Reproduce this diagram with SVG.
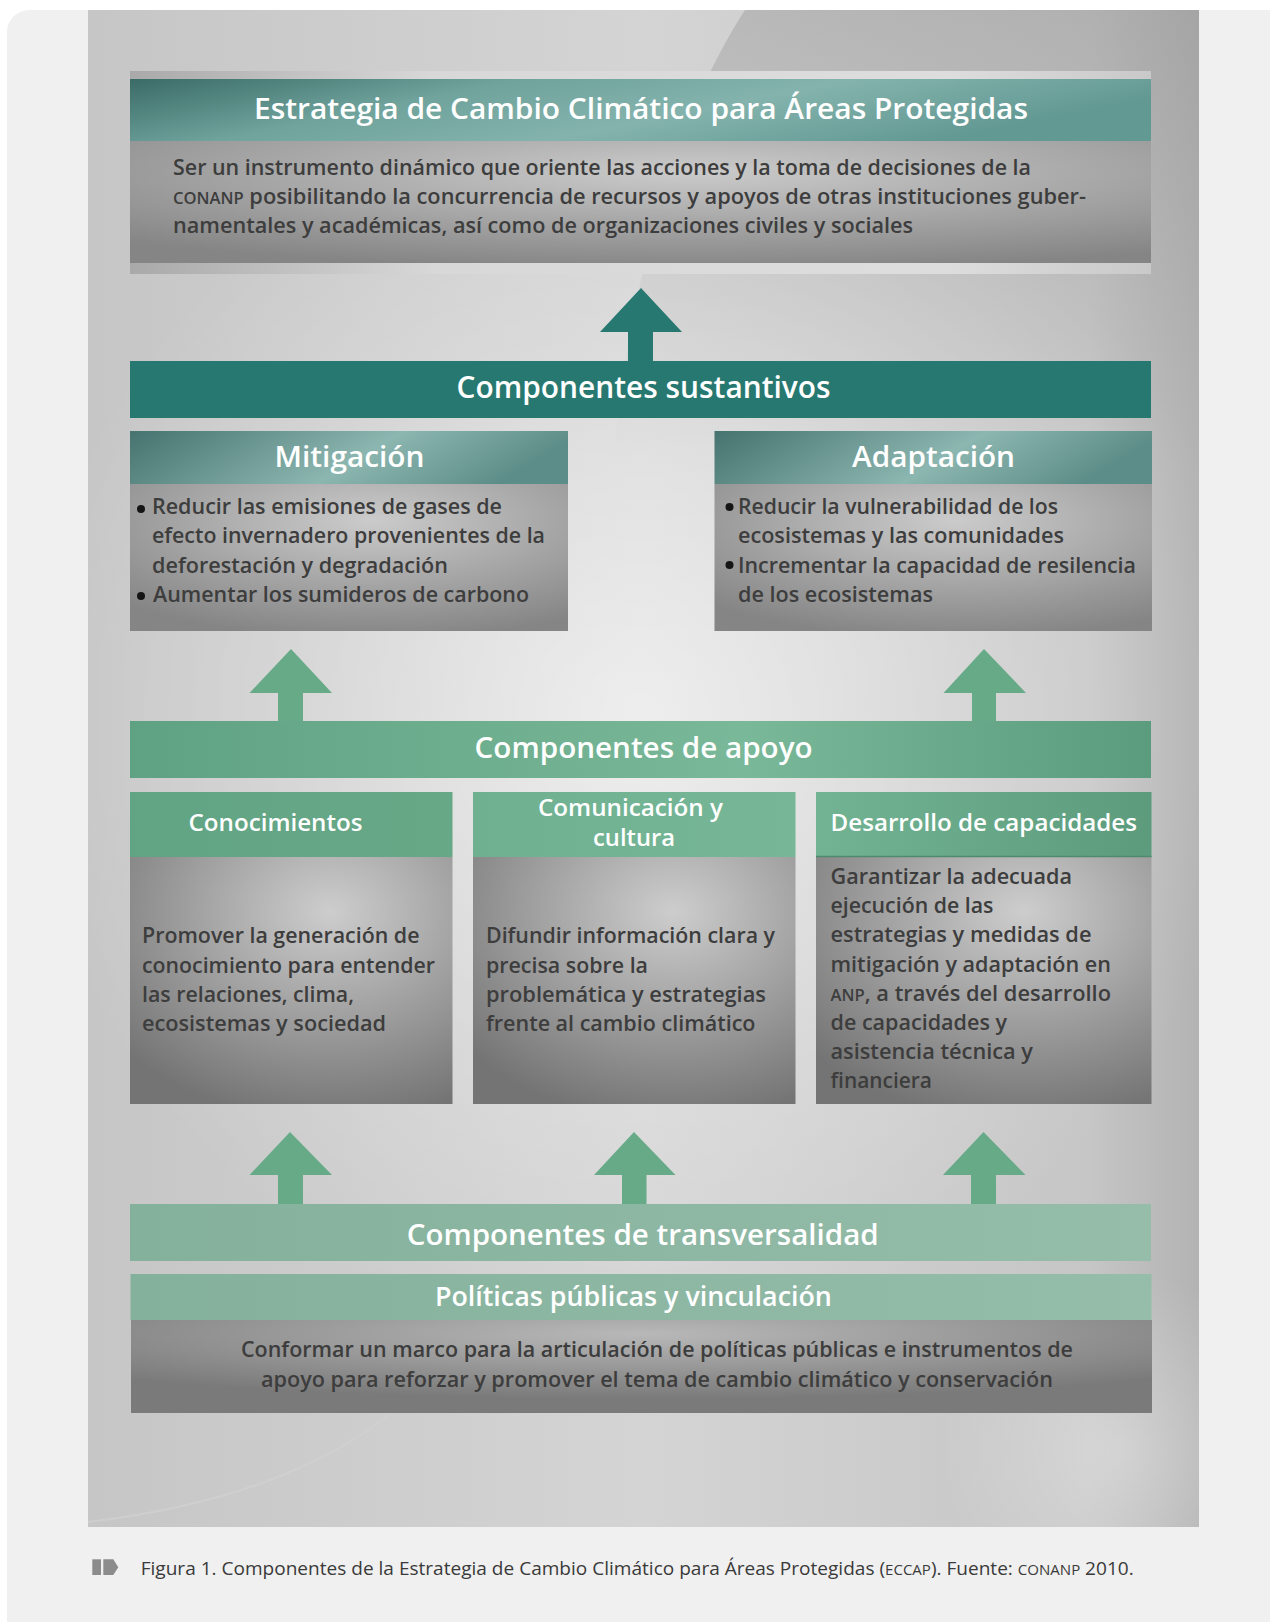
<svg xmlns="http://www.w3.org/2000/svg" width="1270" height="1622" viewBox="0 0 1270 1622">
<defs>
<style>
.t{font-family:"Open Sans","Noto Sans","Liberation Sans",sans-serif;}
.w{fill:#ffffff;font-weight:600;}
.b{fill:#3d3d3d;font-weight:600;font-size:21px;}
.m{text-anchor:middle;}
.sc{font-size:16px;}
.arT{fill:#277870;}
.arG{fill:#67aa88;}
.dot{fill:#151515;}
</style>
<linearGradient id="panelBase" x1="0" y1="0" x2="1" y2="0">
<stop offset="0" stop-color="#c6c6c6"/>
<stop offset="0.5" stop-color="#d4d4d4"/>
<stop offset="0.9" stop-color="#c6c6c6"/>
<stop offset="1" stop-color="#b3b3b3"/>
</linearGradient>
<radialGradient id="panelGlow" cx="640" cy="720" r="620" gradientUnits="userSpaceOnUse">
<stop offset="0" stop-color="#ffffff" stop-opacity="0.6"/>
<stop offset="0.6" stop-color="#ffffff" stop-opacity="0.2"/>
<stop offset="1" stop-color="#ffffff" stop-opacity="0"/>
</radialGradient>
<radialGradient id="glowBR" cx="1120" cy="1450" r="180" gradientUnits="userSpaceOnUse">
<stop offset="0" stop-color="#ffffff" stop-opacity="0.3"/>
<stop offset="1" stop-color="#ffffff" stop-opacity="0"/>
</radialGradient>
<linearGradient id="darkTR" x1="0" y1="0" x2="0" y2="1">
<stop offset="0" stop-color="#8a8a8a" stop-opacity="0.35"/>
<stop offset="1" stop-color="#8a8a8a" stop-opacity="0"/>
</linearGradient>
<linearGradient id="hdrTop" x1="0" y1="0" x2="1" y2="0.3">
<stop offset="0" stop-color="#3b6b67"/>
<stop offset="0.35" stop-color="#6fa39c"/>
<stop offset="0.65" stop-color="#84b3ad"/>
<stop offset="1" stop-color="#639993"/>
</linearGradient>
<linearGradient id="hdrMA" x1="0" y1="0" x2="1" y2="0.2">
<stop offset="0" stop-color="#46736f"/>
<stop offset="0.6" stop-color="#8cb6b0"/>
<stop offset="1" stop-color="#5d8d88"/>
</linearGradient>
<linearGradient id="apoyo" x1="0" y1="0" x2="1" y2="0">
<stop offset="0" stop-color="#5fa283"/>
<stop offset="0.6" stop-color="#79b899"/>
<stop offset="1" stop-color="#5b9c7e"/>
</linearGradient>
<linearGradient id="colHdr1" x1="0" y1="0" x2="1" y2="0">
<stop offset="0" stop-color="#61a483"/>
<stop offset="1" stop-color="#67a887"/>
</linearGradient>
<linearGradient id="colHdr2" x1="0" y1="0" x2="1" y2="0">
<stop offset="0" stop-color="#6eb090"/>
<stop offset="1" stop-color="#77b798"/>
</linearGradient>
<linearGradient id="colHdr3" x1="0" y1="0" x2="1" y2="0">
<stop offset="0" stop-color="#72b394"/>
<stop offset="1" stop-color="#5c9c7d"/>
</linearGradient>
<linearGradient id="transv" x1="0" y1="0" x2="1" y2="0">
<stop offset="0" stop-color="#84b19c"/>
<stop offset="1" stop-color="#95bdaa"/>
</linearGradient>
<radialGradient id="gbox" cx="0.55" cy="0.25" r="0.8">
<stop offset="0" stop-color="#cbcbcb"/>
<stop offset="1" stop-color="#858585"/>
</radialGradient>
<radialGradient id="gboxCol" cx="0.62" cy="0.22" r="0.85">
<stop offset="0" stop-color="#cdcdcd"/>
<stop offset="1" stop-color="#747474"/>
</radialGradient>
<radialGradient id="gboxBot" cx="0.5" cy="0.15" r="0.7">
<stop offset="0" stop-color="#b8b8b8"/>
<stop offset="1" stop-color="#7a7a7a"/>
</radialGradient>
<linearGradient id="strip" x1="0" y1="0" x2="1" y2="0">
<stop offset="0" stop-color="#a9a9a9"/>
<stop offset="0.3" stop-color="#d8d8d8"/>
<stop offset="0.8" stop-color="#dddddd"/>
<stop offset="1" stop-color="#c9c9c9"/>
</linearGradient>
</defs>

<rect x="0" y="0" width="1270" height="1622" fill="#ffffff"/>
<rect x="7" y="10" width="1290" height="1640" rx="22" fill="#f0f0f0"/>

<g id="panel">
<rect x="88" y="10" width="1111" height="1517" fill="url(#panelBase)"/>
<path d="M 745 10 C 680 110 632 260 612 470 L 1199 470 L 1199 10 Z" fill="url(#darkTR)"/>
<rect x="88" y="10" width="1111" height="1517" fill="url(#panelGlow)"/>
<rect x="900" y="1250" width="299" height="277" fill="url(#glowBR)"/>
<path d="M 88 1522 C 230 1505 380 1460 470 1330" fill="none" stroke="#d2d2d2" stroke-width="2" opacity="0.7"/>
</g>

<g id="connectors">
<polygon class="arT" points="641,288 682,332 653,332 653,361 628,361 628,332 600,332"/>
<polygon class="arG" points="291,649 332,693 303,693 303,721 278,721 278,693 249.5,693"/>
<polygon class="arG" points="984,649 1026,693 996,693 996,721 972,721 972,693 943.5,693"/>
<polygon class="arG" points="290,1132 332,1175 303,1175 303,1204 278,1204 278,1175 249.5,1175"/>
<polygon class="arG" points="634,1132 675.5,1175 646.5,1175 646.5,1204 622,1204 622,1175 594,1175"/>
<polygon class="arG" points="983.5,1132 1025.5,1175 996,1175 996,1204 971,1204 971,1175 943,1175"/>
</g>

<g id="estrategia">
<rect x="130" y="71" width="1021" height="203" fill="url(#strip)"/>
<rect x="130" y="79" width="1021" height="62" fill="url(#hdrTop)"/>
<rect x="130" y="141" width="1021" height="122" fill="url(#gbox)"/>
<text class="t w m" x="641" y="119" font-size="28" textLength="774" lengthAdjust="spacingAndGlyphs">Estrategia de Cambio Climático para Áreas Protegidas</text>
<text class="t b" x="173" y="175" textLength="858" lengthAdjust="spacingAndGlyphs">Ser un instrumento dinámico que oriente las acciones y la toma de decisiones de la</text>
<text class="t b" x="173" y="204" textLength="913" lengthAdjust="spacingAndGlyphs"><tspan class="sc">CONANP</tspan> posibilitando la concurrencia de recursos y apoyos de otras instituciones guber-</text>
<text class="t b" x="173" y="233" textLength="740" lengthAdjust="spacingAndGlyphs">namentales y académicas, así como de organizaciones civiles y sociales</text>
</g>

<g id="sustantivos">
<rect x="130" y="361" width="1021" height="57" fill="#277870"/>
<text class="t w m" x="643.6" y="397.5" font-size="30" textLength="374" lengthAdjust="spacingAndGlyphs">Componentes sustantivos</text>
</g>

<g id="mitigacion">
<rect x="130" y="431" width="438" height="53" fill="url(#hdrMA)"/>
<rect x="130" y="484" width="438" height="147" fill="url(#gbox)"/>
<text class="t w m" x="349.5" y="466.5" font-size="29" textLength="150" lengthAdjust="spacingAndGlyphs">Mitigación</text>
<circle class="dot" cx="141" cy="509" r="4"/>
<circle class="dot" cx="141" cy="596" r="4"/>
<text class="t b" x="152" y="514.3" textLength="350" lengthAdjust="spacingAndGlyphs">Reducir las emisiones de gases de</text>
<text class="t b" x="152" y="543.3" textLength="393" lengthAdjust="spacingAndGlyphs">efecto invernadero provenientes de la</text>
<text class="t b" x="152" y="572.7" textLength="296" lengthAdjust="spacingAndGlyphs">deforestación y degradación</text>
<text class="t b" x="153" y="601.7" textLength="376" lengthAdjust="spacingAndGlyphs">Aumentar los sumideros de carbono</text>
</g>

<g id="adaptacion">
<rect x="714.5" y="431" width="437.5" height="53" fill="url(#hdrMA)"/>
<rect x="714.5" y="484" width="437.5" height="147" fill="url(#gbox)"/>
<text class="t w m" x="933.5" y="466.5" font-size="29" textLength="163" lengthAdjust="spacingAndGlyphs">Adaptación</text>
<circle class="dot" cx="729.5" cy="507" r="4"/>
<circle class="dot" cx="729.5" cy="565" r="4"/>
<text class="t b" x="738" y="514.3" textLength="320" lengthAdjust="spacingAndGlyphs">Reducir la vulnerabilidad de los</text>
<text class="t b" x="738" y="543.3" textLength="326" lengthAdjust="spacingAndGlyphs">ecosistemas y las comunidades</text>
<text class="t b" x="738" y="572.7" textLength="398" lengthAdjust="spacingAndGlyphs">Incrementar la capacidad de resilencia</text>
<text class="t b" x="738" y="601.7" textLength="195" lengthAdjust="spacingAndGlyphs">de los ecosistemas</text>
</g>

<g id="apoyo-bar">
<rect x="130" y="721" width="1021" height="57" fill="url(#apoyo)"/>
<text class="t w m" x="643.6" y="758" font-size="29" textLength="338" lengthAdjust="spacingAndGlyphs">Componentes de apoyo</text>
</g>

<g id="conocimientos">
<rect x="130" y="792" width="322.5" height="65" fill="url(#colHdr1)"/>
<rect x="130" y="857" width="322.5" height="247" fill="url(#gboxCol)"/>
<text class="t w m" x="275.5" y="831" font-size="24" textLength="174" lengthAdjust="spacingAndGlyphs">Conocimientos</text>
<text class="t b" x="142" y="943" textLength="277.5" lengthAdjust="spacingAndGlyphs">Promover la generación de</text>
<text class="t b" x="142" y="972.5" textLength="293" lengthAdjust="spacingAndGlyphs">conocimiento para entender</text>
<text class="t b" x="142" y="1001.5" textLength="212" lengthAdjust="spacingAndGlyphs">las relaciones, clima,</text>
<text class="t b" x="142" y="1030.5" textLength="244" lengthAdjust="spacingAndGlyphs">ecosistemas y sociedad</text>
</g>

<g id="comunicacion">
<rect x="473" y="792" width="322.5" height="65" fill="url(#colHdr2)"/>
<rect x="473" y="857" width="322.5" height="247" fill="url(#gboxCol)"/>
<text class="t w m" x="630.5" y="816" font-size="24" textLength="185" lengthAdjust="spacingAndGlyphs">Comunicación y</text>
<text class="t w m" x="634" y="846" font-size="24" textLength="82" lengthAdjust="spacingAndGlyphs">cultura</text>
<text class="t b" x="486" y="943" textLength="289" lengthAdjust="spacingAndGlyphs">Difundir información clara y</text>
<text class="t b" x="486" y="972.5" textLength="162" lengthAdjust="spacingAndGlyphs">precisa sobre la</text>
<text class="t b" x="486" y="1001.5" textLength="280" lengthAdjust="spacingAndGlyphs">problemática y estrategias</text>
<text class="t b" x="486" y="1030.5" textLength="269.5" lengthAdjust="spacingAndGlyphs">frente al cambio climático</text>
</g>

<g id="desarrollo">
<rect x="816" y="792" width="335.5" height="65" fill="url(#colHdr3)"/>
<rect x="816" y="857" width="335.5" height="247" fill="url(#gboxCol)"/>
<line x1="816" y1="856.5" x2="1151.5" y2="856.5" stroke="#4f8a6f" stroke-width="1.5"/>
<text class="t w" x="830.5" y="831" font-size="24" textLength="306.5" lengthAdjust="spacingAndGlyphs">Desarrollo de capacidades</text>
<text class="t b" x="830.5" y="884" textLength="241.5" lengthAdjust="spacingAndGlyphs">Garantizar la adecuada</text>
<text class="t b" x="830.5" y="913" textLength="163" lengthAdjust="spacingAndGlyphs">ejecución de las</text>
<text class="t b" x="830.5" y="942" textLength="261" lengthAdjust="spacingAndGlyphs">estrategias y medidas de</text>
<text class="t b" x="830.5" y="971.5" textLength="280.5" lengthAdjust="spacingAndGlyphs">mitigación y adaptación en</text>
<text class="t b" x="830.5" y="1000.5" textLength="280.5" lengthAdjust="spacingAndGlyphs"><tspan class="sc">ANP</tspan>, a través del desarrollo</text>
<text class="t b" x="830.5" y="1030" textLength="176.5" lengthAdjust="spacingAndGlyphs">de capacidades y</text>
<text class="t b" x="830.5" y="1059" textLength="202.5" lengthAdjust="spacingAndGlyphs">asistencia técnica y</text>
<text class="t b" x="830.5" y="1088" textLength="101.5" lengthAdjust="spacingAndGlyphs">financiera</text>
</g>

<g id="transversalidad">
<rect x="130" y="1204" width="1021" height="57" fill="url(#transv)"/>
<text class="t w m" x="642.7" y="1245" font-size="29" textLength="472" lengthAdjust="spacingAndGlyphs">Componentes de transversalidad</text>
</g>

<g id="politicas">
<rect x="130.5" y="1274" width="1021" height="46" fill="url(#transv)"/>
<rect x="131" y="1320" width="1021" height="93" fill="url(#gboxBot)"/>
<text class="t w m" x="633.4" y="1305.5" font-size="27" textLength="397" lengthAdjust="spacingAndGlyphs">Políticas públicas y vinculación</text>
<text class="t b m" x="657" y="1357" textLength="832" lengthAdjust="spacingAndGlyphs">Conformar un marco para la articulación de políticas públicas e instrumentos de</text>
<text class="t b m" x="657" y="1386.5" textLength="792" lengthAdjust="spacingAndGlyphs">apoyo para reforzar y promover el tema de cambio climático y conservación</text>
</g>

<g id="caption">
<rect x="92.3" y="1559.3" width="8.7" height="15.7" fill="#8c8c8c"/>
<polygon points="103.3,1559.3 113.3,1559.3 118.3,1567.2 113.3,1575 103.3,1575" fill="#8c8c8c"/>
<text class="t" x="140.7" y="1575" font-size="19" fill="#3a3a3a" textLength="993" lengthAdjust="spacingAndGlyphs">Figura 1. Componentes de la Estrategia de Cambio Climático para Áreas Protegidas (<tspan font-size="15">ECCAP</tspan>). Fuente: <tspan font-size="15">CONANP</tspan> 2010.</text>
</g>
</svg>
